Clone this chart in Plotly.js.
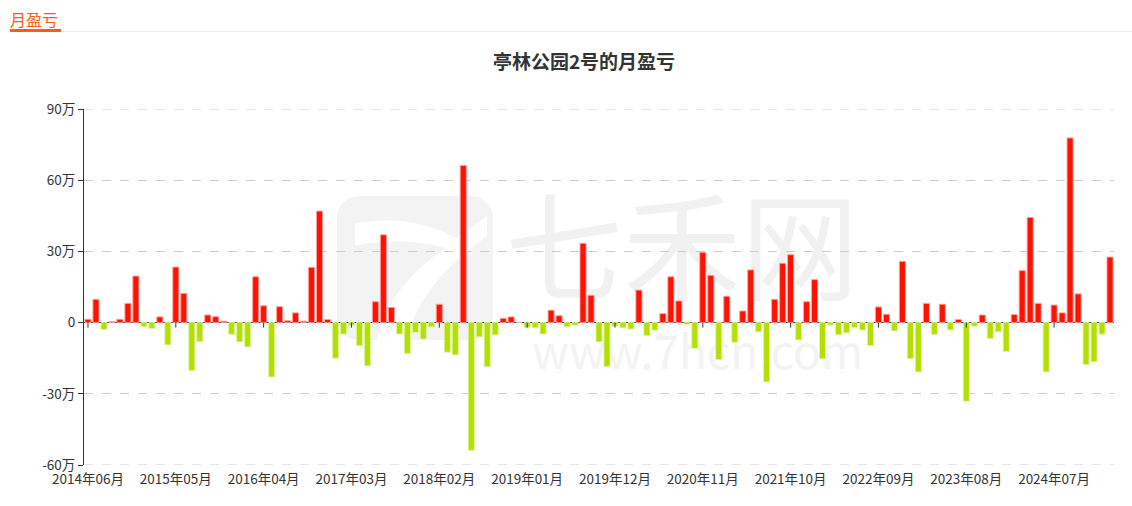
<!DOCTYPE html>
<html>
<head>
<meta charset="utf-8">
<script src="https://cdn.plot.ly/plotly-3.0.1.min.js"></script>
<style>
  html, body { margin: 0; padding: 0; background: #fff; }
  #wrap { position: relative; width: 1132px; height: 506px; overflow: hidden; font-family: "Noto Sans CJK SC", sans-serif; }
  #chart { position: absolute; left: 0; top: 0; width: 1132px; height: 506px; z-index: 2; }
  .wm { position: absolute; z-index: 1; color: #f1f1f1; font-family: "Noto Sans CJK SC", sans-serif; white-space: nowrap; }
  #logo { position: absolute; z-index: 1; left: 337px; top: 196px; width: 156px; height: 144px; }
  #hdr { position: absolute; z-index: 3; left: 10px; top: 8px; font-size: 16px; color: #ff5a1f; line-height: 22px; font-family: "Noto Sans CJK SC", sans-serif; }
  #hdrline { position: absolute; z-index: 3; left: 10px; top: 29px; width: 51px; height: 3px; background: #ff5a1f; }
  #hdrgray { position: absolute; z-index: 2; left: 61px; top: 31px; width: 1071px; height: 1px; background: #ececec; }
</style>
</head>
<body>
<div id="wrap">
  <svg id="logo" width="156" height="144" viewBox="0 0 156 144">
    <rect x="0" y="0" width="156" height="144" rx="22" ry="22" fill="#f3f3f3"/>
    <path d="M18 28 C60 18 95 30 120 42 L150 20 L150 40 C110 70 80 100 70 144 L40 144 C50 100 80 70 110 52 C80 45 50 42 18 50 Z" fill="#ffffff"/>
  </svg>
  <div class="wm" style="left:505px; top:170px; font-size:118px; line-height:1.2;">七禾网</div>
  <div class="wm" style="left:532px; top:322px; font-size:46px; line-height:1.2; color:#f3f3f3;">www.7hcn.com</div>
  <div id="chart"></div>
  <div id="hdr">月盈亏</div>
  <div id="hdrline"></div>
  <div id="hdrgray"></div>
</div>
<script>
// Monthly profit / loss, unit: 万 (10,000 yuan), from 2014-06 to 2025-02
var startYear = 2014, startMonth = 6, monthCount = 129;
var profit = [
  1.4, 9.8, -2.9, 0.4, 1.4, 8.1, 19.6, -1.7, -2.5, 2.4,
  -9.4, 23.4, 12.3, -20.2, -8.0, 3.2, 2.5, 0.6, -4.9, -8.1,
  -10.2, 19.3, 7.1, -22.9, 6.7, 0.8, 4.1, 0.6, 23.3, 47.0,
  1.3, -15.0, -4.8, -1.1, -9.7, -18.2, 8.8, 37.0, 6.4, -4.8,
  -13.0, -4.1, -6.9, -1.8, 7.7, -12.5, -13.6, 66.2, -53.8, -6.0,
  -18.6, -5.2, 1.8, 2.4, 0.0, -2.1, -2.2, -4.8, 5.2, 2.9,
  -1.8, -1.1, 33.4, 11.5, -8.1, -18.5, -1.5, -2.2, -2.7, 13.7,
  -5.5, -3.2, 3.8, 19.3, 9.1, -0.8, -10.8, 29.6, 19.9, -15.6,
  11.1, -8.3, 4.9, 22.2, -3.9, -25.0, 9.8, 25.0, 28.6, -7.3,
  8.8, 18.1, -15.2, -1.0, -5.1, -4.3, -2.0, -3.1, -9.7, 6.6,
  3.5, -3.5, 25.8, -15.1, -20.8, 8.1, -5.0, 7.7, -3.1, 1.3,
  -33.1, -1.5, 3.2, -6.7, -3.9, -12.2, 3.4, 21.9, 44.3, 8.1,
  -20.8, 7.4, 4.1, 77.8, 12.1, -17.7, -16.5, -4.9, 27.6
];
var yTickVals = [-60, -30, 0, 30, 60, 90];
var yTickText = ['-60万', '-30万', '0', '30万', '60万', '90万'];
var xLabelStep = 11;
var upColor = '#ff1200', downColor = '#b3df03';

var months = [];
for (var i = 0; i < monthCount; i++) {
  var m = startMonth - 1 + i;
  var yy = startYear + Math.floor(m / 12);
  var mm = (m % 12) + 1;
  months.push(yy + '年' + (mm < 10 ? '0' + mm : mm) + '月');
}
var xTickVals = months.filter(function (d, i) { return i % xLabelStep === 0; });

var colors = profit.map(function (v) { return v >= 0 ? upColor : downColor; });
var lineColors = profit.map(function (v) { return v >= 0 ? 'rgba(255,160,160,0.9)' : 'rgba(225,245,160,0.9)'; });

var shapes = xTickVals.map(function (c) {
  return { type: 'line', xref: 'x', yref: 'y', x0: c, x1: c, y0: 0, y1: -2.1,
           line: { color: '#333', width: 1 }, layer: 'above' };
});
[yTickVals[0], yTickVals[yTickVals.length - 1]].forEach(function (v) {
  shapes.push({ type: 'line', xref: 'paper', yref: 'y', x0: 0, x1: 1, y0: v, y1: v,
                line: { color: '#cccccc', width: 1, dash: 'dash' }, layer: 'below' });
});

var trace = {
  type: 'bar', x: months, y: profit,
  marker: { color: colors, line: { color: lineColors, width: 1 } },
  hoverinfo: 'x+y'
};

var layout = {
  width: 1132, height: 506,
  margin: { l: 84, r: 18, t: 109, b: 41, pad: 0 },
  paper_bgcolor: 'rgba(0,0,0,0)', plot_bgcolor: 'rgba(0,0,0,0)',
  font: { family: '"Noto Sans CJK SC", sans-serif', size: 13, color: '#333' },
  title: { text: '<b>亭林公园2号的月盈亏</b>', x: 584 / 1132, xref: 'container', xanchor: 'center',
           y: 1 - 62 / 506, yref: 'container', yanchor: 'middle',
           font: { size: 19, color: '#333', family: '"Noto Sans CJK SC", sans-serif' } },
  bargap: 0.24,
  showlegend: false,
  xaxis: {
    type: 'category', tickmode: 'array', tickvals: xTickVals, ticktext: xTickVals,
    showgrid: false, showline: false, ticks: 'outside', ticklen: 2, tickcolor: 'rgba(0,0,0,0)', zeroline: false,
    tickfont: { size: 13.5, color: '#333' }, fixedrange: true
  },
  yaxis: {
    range: [-60, 90], tickmode: 'array', tickvals: yTickVals, ticktext: yTickText,
    showgrid: true, gridcolor: '#cccccc', griddash: 'dash', gridwidth: 1,
    zeroline: true, zerolinecolor: '#333', zerolinewidth: 1,
    showline: true, linecolor: '#333', linewidth: 1,
    ticks: 'outside', ticklen: 5, tickcolor: '#333',
    tickfont: { size: 13.5, color: '#333' }, fixedrange: true
  },
  shapes: shapes
};

Plotly.newPlot('chart', [trace], layout, { displayModeBar: false, staticPlot: true });
</script>
</body>
</html>
